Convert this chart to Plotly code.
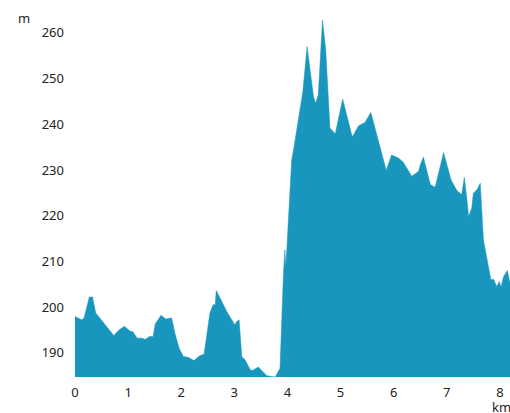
import plotly.graph_objects as go

km = [0.0, 0.01, 0.126, 0.17, 0.27, 0.33, 0.39, 0.46, 0.51, 0.73, 0.83, 0.93, 1.04, 1.09, 1.17,
      1.27, 1.32, 1.41, 1.47, 1.51, 1.62, 1.71, 1.82, 1.88, 1.96, 2.04, 2.13, 2.24, 2.34, 2.43,
      2.54, 2.60, 2.64, 2.66, 2.86, 3.01, 3.04, 3.09, 3.14, 3.20, 3.30, 3.34, 3.45, 3.61, 3.77,
      3.86, 3.92, 3.95, 3.97, 4.08, 4.12, 4.24, 4.29, 4.37, 4.49, 4.53, 4.58, 4.66, 4.72, 4.80,
      4.90, 5.04, 5.22, 5.34, 5.46, 5.57, 5.71, 5.86, 5.96, 6.09, 6.18, 6.34, 6.47, 6.50, 6.56,
      6.69, 6.78, 6.94, 7.08, 7.19, 7.28, 7.33, 7.38, 7.41, 7.47, 7.50, 7.57, 7.63, 7.69, 7.77,
      7.83, 7.88, 7.94, 7.99, 8.02, 8.07, 8.14, 8.19]
elevation = [197.9, 197.9, 197.2, 197.6, 202.2, 202.2, 198.7, 197.7, 197.1, 193.8, 195.0, 195.8, 194.7, 194.6, 193.2,
             193.2, 192.9, 193.6, 193.5, 196.3, 198.2, 197.4, 197.6, 194.3, 191.0, 189.2, 189.0, 188.3, 189.3, 189.7,
             198.7, 200.5, 200.5, 203.6, 199.0, 196.1, 196.8, 197.2, 189.2, 188.5, 186.3, 186.1, 186.9, 185.0, 184.7,
             186.6, 206.0, 212.5, 208.9, 232.2, 234.8, 243.9, 247.2, 257.0, 246.1, 244.6, 246.4, 262.8, 256.3, 239.2,
             237.9, 245.5, 237.2, 239.7, 240.4, 242.6, 236.6, 229.9, 233.3, 232.6, 231.7, 228.6, 229.7, 231.1, 232.8,
             226.8, 226.2, 233.8, 227.8, 225.5, 224.6, 228.4, 223.5, 219.8, 221.6, 224.9, 225.7, 227.1, 214.7, 209.6,
             206.0, 206.1, 204.5, 205.6, 204.4, 206.7, 208.0, 205.2]

x_ticks = [0, 1, 2, 3, 4, 5, 6, 7, 8]
y_ticks = [190, 200, 210, 220, 230, 240, 250, 260]

color = "#1896BE"
font = dict(family="Noto Sans, Open Sans, sans-serif", size=13, color="#222222")

fig = go.Figure()
fig.add_trace(go.Scatter(
    x=km, y=elevation, mode="lines", fill="tozeroy",
    line=dict(color=color, width=0.5), fillcolor=color,
    hoverinfo="x+y",
))

fig.update_layout(
    width=510, height=413,
    margin=dict(l=75, r=0, t=10, b=36, autoexpand=False),
    plot_bgcolor="white", paper_bgcolor="white",
    showlegend=False,
    font=font,
    xaxis=dict(range=[0, 8.19], tickvals=x_ticks, showgrid=False, zeroline=False,
               showline=False, ticks="", ticklabelstandoff=6, automargin=False),
    yaxis=dict(range=[184.7, 265.0], tickvals=y_ticks, showgrid=False, zeroline=False,
               showline=False, ticks="", ticklabelstandoff=10, automargin=False),
    annotations=[
        dict(text="m", xref="paper", yref="paper", x=-0.118, y=0.978, xanchor="center",
             yanchor="middle", showarrow=False, font=font),
        dict(text="km", xref="paper", yref="paper", x=0.98, y=-0.082, xanchor="center",
             yanchor="middle", showarrow=False, font=font),
    ],
)

fig.write_html("out.html", config={"displayModeBar": False},
               post_script="document.body.style.margin='0';document.body.style.overflow='hidden';")
